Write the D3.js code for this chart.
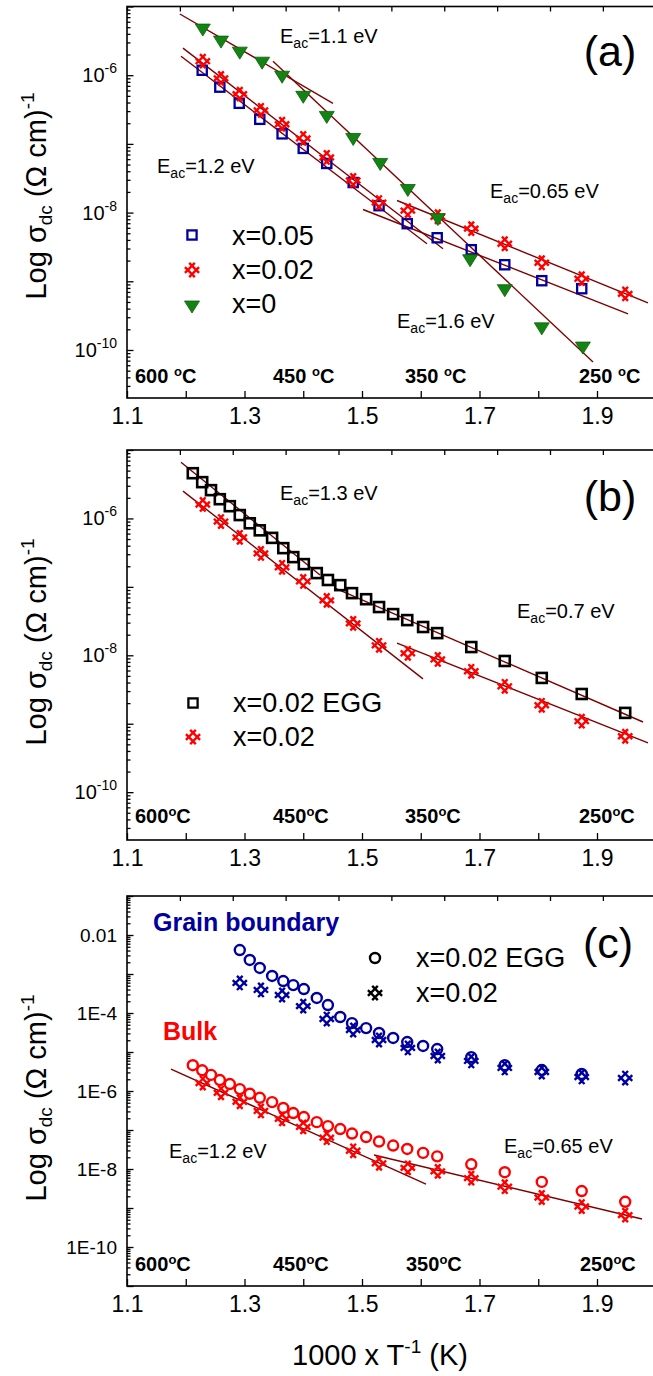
<!DOCTYPE html>
<html><head><meta charset="utf-8">
<script src="https://cdn.jsdelivr.net/npm/d3@7"></script>
<style>
body{margin:0;background:#fff}
svg{display:block}
text{font-family:"Liberation Sans",Arial,Helvetica,sans-serif;fill:#000}
</style>
</head><body>
<svg id="chart" width="653" height="1376"></svg>
<script>
// ---------------- DATA ----------------
const xTickValues = [1.1,1.2,1.3,1.4,1.5,1.6,1.7,1.8,1.9,2.0];
const xTickLabels = ["1.1","","1.3","","1.5","","1.7","","1.9",""];
const tempLabels = ["600","450","350","250"];

// x = 0.02 (panels a, b and bulk in c)
const x002_x = [1.229,1.260,1.292,1.328,1.364,1.400,1.440,1.485,1.529,1.578,1.629,1.686,1.743,1.806,1.874,1.948];
const x002_s = [1.6e-6,9.0e-7,5.3e-7,3.08e-7,1.93e-7,1.2e-7,6.35e-8,2.93e-8,1.4e-8,1.07e-8,8.7e-9,5.84e-9,3.52e-9,1.86e-9,1.09e-9,6.56e-10];
// x = 0.05 (panel a)
const x005_x = [1.228,1.258,1.291,1.326,1.364,1.400,1.440,1.485,1.529,1.577,1.628,1.686,1.743,1.806,1.874];
const x005_s = [1.18e-6,6.7e-7,3.9e-7,2.28e-7,1.4e-7,8.6e-8,5.19e-8,2.74e-8,1.26e-8,6.9e-9,4.3e-9,2.88e-9,1.74e-9,1.02e-9,7.8e-10];
// x = 0 (panel a)
const x0_x = [1.229,1.260,1.292,1.330,1.364,1.400,1.440,1.485,1.531,1.578,1.629,1.684,1.743,1.806,1.876];
const x0_s = [4.85e-6,3.24e-6,2.24e-6,1.60e-6,1.0e-6,5.1e-7,2.6e-7,1.24e-7,5.37e-8,2.24e-8,8.45e-9,2.13e-9,7.8e-10,2.17e-10,1.14e-10];
// x = 0.02 EGG (panel b and bulk in c)
const egg_x = [1.212,1.228,1.243,1.258,1.275,1.292,1.309,1.326,1.347,1.366,1.383,1.401,1.423,1.442,1.463,1.483,1.507,1.529,1.553,1.577,1.604,1.628,1.686,1.743,1.806,1.874,1.948];
const egg_s = [4.58e-6,3.39e-6,2.59e-6,1.91e-6,1.51e-6,1.12e-6,8.5e-7,6.7e-7,5.2e-7,3.68e-7,2.72e-7,2.15e-7,1.59e-7,1.26e-7,1.06e-7,8.1e-8,6.6e-8,5.07e-8,4.0e-8,3.27e-8,2.59e-8,2.11e-8,1.32e-8,8.26e-9,4.67e-9,2.72e-9,1.44e-9];
// grain boundary (panel c)
const gbEgg_x = [1.292,1.309,1.326,1.347,1.366,1.383,1.401,1.423,1.442,1.463,1.483,1.507,1.529,1.553,1.577,1.604,1.628,1.686,1.743,1.806,1.874];
const gbEgg_s = [4.12e-3,2.29e-3,1.43e-3,8.9e-4,6.6e-4,5.2e-4,4.12e-4,2.43e-4,1.6e-4,7.9e-5,5.5e-5,4.1e-5,3.07e-5,2.29e-5,1.8e-5,1.43e-5,1.19e-5,7.4e-6,4.6e-6,3.45e-6,2.73e-6];
const gb002_x = [1.292,1.328,1.364,1.400,1.440,1.485,1.529,1.578,1.629,1.686,1.743,1.806,1.874,1.948];
const gb002_s = [5.9e-4,3.9e-4,2.9e-4,1.5e-4,7.0e-5,3.67e-5,2.03e-5,1.27e-5,7.9e-6,5.9e-6,3.9e-6,3.07e-6,2.29e-6,2.15e-6];

// Arrhenius fit lines: [x1, s1, x2, s2]
const fitA_x0_hi   = [1.190, 7.78e-6, 1.4506, 3.90e-7];
const fitA_x0_lo   = [1.3485, 1.60e-6, 1.8932, 6.68e-11];
const fitA_x002_hi = [1.1953, 2.48e-6, 1.6379, 2.98e-9];
const fitA_x005_hi = [1.1919, 1.89e-6, 1.6106, 3.52e-9];
const fitA_x002_lo = [1.5596, 1.50e-8, 1.9868, 4.85e-10];
const fitA_x005_lo = [1.5017, 1.11e-8, 1.9528, 3.36e-10];
const fitB_egg_hi  = [1.1919, 6.64e-6, 1.4285, 1.49e-7];
const fitB_egg_lo  = [1.4540, 9.6e-8, 1.9783, 1.06e-9];
const fitB_x002_hi = [1.1953, 2.51e-6, 1.6038, 4.52e-9];
const fitB_x002_lo = [1.5596, 1.51e-8, 1.9868, 5.25e-10];
const fitC_hi      = [1.1749, 3.66e-6, 1.6089, 4.12e-9];
const fitC_lo      = [1.5204, 2.29e-8, 1.9766, 5.22e-10];

// ---------------- STYLE ----------------
const BLUE = "#0000a0", RED = "#ff0000", GREEN = "#138313", LINE = "#800000";
const svg = d3.select("#chart");
const X = d3.scaleLinear().domain([1.1, 2.0]).range([127, 655.75]);
const zip = (a, b) => a.map((v, i) => [v, b[i]]);

function hatchPath(r, d) {
  const h = Math.sqrt(r*r - d*d), s = Math.SQRT1_2;
  let p = "";
  for (const [ux, uy, nx, ny] of [[s, s, s, -s], [s, -s, s, s]]) {
    for (const o of [-d, d]) {
      const cx = nx*o, cy = ny*o;
      p += `M${(cx-ux*h).toFixed(2)},${(cy-uy*h).toFixed(2)}L${(cx+ux*h).toFixed(2)},${(cy+uy*h).toFixed(2)}`;
    }
  }
  return p;
}
const HATCH = hatchPath(7.6, 3.0);
const TRI = "M-7.5,-4L7.5,-4L0,8Z";

function marker(g, type, color, x, y) {
  if (type === "square") {
    g.append("rect").attr("x", x-4.6).attr("y", y-4.6).attr("width", 9.2).attr("height", 9.2)
      .attr("fill", "none").attr("stroke", color).attr("stroke-width", 2.3);
  } else if (type === "bigsquare") {
    g.append("rect").attr("x", x-5).attr("y", y-5).attr("width", 10).attr("height", 10)
      .attr("fill", "none").attr("stroke", color).attr("stroke-width", 2.6);
  } else if (type === "hatch") {
    g.append("path").attr("d", HATCH).attr("transform", `translate(${x},${y})`)
      .attr("fill", "none").attr("stroke", color).attr("stroke-width", 2.4);
  } else if (type === "tri") {
    g.append("path").attr("d", TRI).attr("transform", `translate(${x},${y})`)
      .attr("fill", color).attr("stroke", "#0d5f0d").attr("stroke-width", 0.8);
  } else if (type === "circle") {
    g.append("circle").attr("cx", x).attr("cy", y).attr("r", 5)
      .attr("fill", "none").attr("stroke", color).attr("stroke-width", 2.4);
  }
}

function makePanel(top, bottom, dom) {
  const Y = d3.scaleLog().domain(dom).range([bottom, top]);
  const g = svg.append("g");
  const bx = g.append("g").attr("transform", `translate(0,${bottom})`)
    .call(d3.axisBottom(X).tickValues(xTickValues).tickSizeInner(-7).tickSizeOuter(0).tickPadding(10)
      .tickFormat((d, i) => xTickLabels[i]));
  bx.select(".domain").remove();
  bx.selectAll("text").attr("font-size", 23).attr("font-family", null);
  const tx = g.append("g").attr("transform", `translate(0,${top})`)
    .call(d3.axisTop(X).tickValues(d3.range(11).map(k => 1.1 + 0.09*k)).tickSizeInner(-5).tickSizeOuter(0).tickFormat(""));
  tx.select(".domain").remove();
  const lo = Math.ceil(Math.log10(dom[0])), hi = Math.floor(Math.log10(dom[1]));
  const majors = d3.range(lo, hi + 1).map(k => Math.pow(10, k));
  const minors = [];
  for (let k = lo - 1; k <= hi; k++) for (let m = 2; m <= 9; m++) {
    const v = m * Math.pow(10, k);
    if (v > dom[0] && v < dom[1]) minors.push(v);
  }
  const ya = g.append("g").attr("transform", `translate(${X(1.1)},0)`)
    .call(d3.axisLeft(Y).tickValues(majors).tickSizeInner(-6.5).tickSizeOuter(0).tickFormat(""));
  ya.select(".domain").remove();
  const ym = g.append("g").attr("transform", `translate(${X(1.1)},0)`)
    .call(d3.axisLeft(Y).tickValues(minors).tickSizeInner(-3.5).tickSizeOuter(0).tickFormat(""));
  ym.select(".domain").remove();
  g.selectAll(".tick line").attr("stroke-width", 1.3);
  g.append("rect").attr("x", X(1.1)).attr("y", top).attr("width", X(2.0) - X(1.1)).attr("height", bottom - top)
    .attr("fill", "none").attr("stroke", "#000").attr("stroke-width", 1.6);
  return {g, Y};
}

function yPowLabels(p, exps) {
  exps.forEach(e => {
    const t = p.g.append("text").attr("x", 117).attr("y", p.Y(Math.pow(10, e)) + 7)
      .attr("text-anchor", "end").attr("font-size", 20);
    t.append("tspan").text("10");
    t.append("tspan").attr("dy", -9).attr("font-size", 14).text("-" + Math.abs(e));
  });
}

function yTitle(cy) {
  const t = svg.append("text").attr("transform", `translate(46,${cy}) rotate(-90)`)
    .attr("text-anchor", "middle").attr("font-size", 29);
  t.append("tspan").text("Log σ");
  t.append("tspan").attr("dy", 6).attr("font-size", 19).text("dc");
  t.append("tspan").attr("dy", -6).text(" (Ω cm)");
  t.append("tspan").attr("dy", -12).attr("font-size", 19).text("-1");
}

function eac(x, y, val) {
  const t = svg.append("text").attr("x", x).attr("y", y).attr("font-size", 20);
  t.append("tspan").text("E");
  t.append("tspan").attr("dy", 5).attr("font-size", 14).text("ac");
  t.append("tspan").attr("dy", -5).text("=" + val + " eV");
}

function temps(y, xs, space) {
  tempLabels.forEach((lab, i) => {
    const t = svg.append("text").attr("x", xs[i]).attr("y", y).attr("font-size", 20).attr("font-weight", "bold");
    t.append("tspan").text(lab + (space ? " " : ""));
    t.append("tspan").attr("dy", -7).attr("font-size", 13).text("o");
    t.append("tspan").attr("dy", 7).text("C");
  });
}

function series(p, xs, ss, type, color) {
  const g = p.g.append("g");
  zip(xs, ss).forEach(([x, s]) => marker(g, type, color, X(x), p.Y(s)));
}

function fit(p, f) {
  p.g.append("line").attr("x1", X(f[0])).attr("y1", p.Y(f[1])).attr("x2", X(f[2])).attr("y2", p.Y(f[3]))
    .attr("stroke", LINE).attr("stroke-width", 1.4);
}

function legendText(x, y, s) {
  svg.append("text").attr("x", x).attr("y", y).attr("font-size", 27).text(s);
}

function panelLabel(x, y, s) {
  svg.append("text").attr("x", x).attr("y", y).attr("font-size", 43).attr("text-anchor", "middle").text(s);
}

// ---------------- PANEL (a) ----------------
const A = makePanel(6.5, 398, [2e-11, 1e-5]);
yPowLabels(A, [-6, -8, -10]);
[fitA_x0_hi, fitA_x0_lo, fitA_x002_hi, fitA_x005_hi, fitA_x002_lo, fitA_x005_lo].forEach(f => fit(A, f));
series(A, x005_x, x005_s, "square", BLUE);
series(A, x002_x, x002_s, "hatch", RED);
series(A, x0_x, x0_s, "tri", GREEN);
eac(280, 43, "1.1"); eac(157, 173, "1.2"); eac(490, 198, "0.65"); eac(397, 328, "1.6");
panelLabel(610, 66, "(a)");
marker(svg, "square", BLUE, 192, 235); legendText(232, 245, "x=0.05");
marker(svg, "hatch", RED, 192, 270); legendText(232, 279, "x=0.02");
marker(svg, "tri", GREEN, 192, 305); legendText(232, 313, "x=0");
temps(383, [135, 273, 405, 579], true);
yTitle(196);

// ---------------- PANEL (b) ----------------
const B = makePanel(450, 840, [2e-11, 1e-5]);
yPowLabels(B, [-6, -8, -10]);
[fitB_egg_hi, fitB_egg_lo, fitB_x002_hi, fitB_x002_lo].forEach(f => fit(B, f));
series(B, egg_x, egg_s, "bigsquare", "#000");
series(B, x002_x, x002_s, "hatch", RED);
eac(280, 500, "1.3"); eac(517, 618, "0.7");
panelLabel(610, 511, "(b)");
marker(svg, "square", "#000", 193, 703); legendText(233, 712, "x=0.02 EGG");
marker(svg, "hatch", RED, 193, 737); legendText(233, 746, "x=0.02");
temps(823, [135, 273, 405, 579], false);
yTitle(642);

// ---------------- PANEL (c) ----------------
const C = makePanel(896, 1286, [1e-11, 0.1]);
[[1e-2, "0.01"], [1e-4, "1E-4"], [1e-6, "1E-6"], [1e-8, "1E-8"], [1e-10, "1E-10"]].forEach(([v, s]) => {
  C.g.append("text").attr("x", 117).attr("y", C.Y(v) + 7).attr("text-anchor", "end").attr("font-size", 19).text(s);
});
[fitC_hi, fitC_lo].forEach(f => fit(C, f));
series(C, gbEgg_x, gbEgg_s, "circle", BLUE);
series(C, gb002_x, gb002_s, "hatch", BLUE);
series(C, egg_x, egg_s, "circle", RED);
series(C, x002_x, x002_s, "hatch", RED);
svg.append("text").attr("x", 153).attr("y", 931).attr("font-size", 25).attr("font-weight", "bold")
  .style("fill", BLUE).text("Grain boundary");
svg.append("text").attr("x", 163).attr("y", 1040).attr("font-size", 25).attr("font-weight", "bold")
  .style("fill", RED).text("Bulk");
panelLabel(608, 958, "(c)");
marker(svg, "circle", "#000", 375, 958); legendText(416, 967, "x=0.02 EGG");
marker(svg, "hatch", "#000", 375, 993); legendText(416, 1002, "x=0.02");
eac(169, 1158, "1.2"); eac(504, 1153, "0.65");
temps(1271, [135, 273, 406, 580], false);
yTitle(1098);
{
  const t = svg.append("text").attr("x", 292).attr("y", 1365).attr("font-size", 29);
  t.append("tspan").text("1000 x T");
  t.append("tspan").attr("dy", -12).attr("font-size", 19).text("-1");
  t.append("tspan").attr("dy", 12).text(" (K)");
}
</script>
</body></html>
